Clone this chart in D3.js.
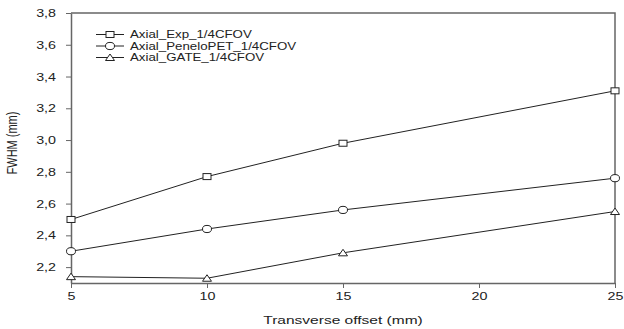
<!DOCTYPE html>
<html><head><meta charset="utf-8">
<script src="https://cdn.jsdelivr.net/npm/d3@7"></script>
<style>
html,body{margin:0;padding:0;background:#fff;}
text{font-family:"Liberation Sans",Arial,sans-serif;fill:#222;}
</style></head>
<body><svg id="c" width="624" height="329"></svg>
<script>
const xValues = [5, 10, 15, 25];
const expValues = [2.50, 2.77, 2.98, 3.31];
const peneloValues = [2.30, 2.44, 2.56, 2.76];
const gateValues = [2.14, 2.13, 2.29, 2.55];
const seriesNames = ["Axial_Exp_1/4CFOV", "Axial_PeneloPET_1/4CFOV", "Axial_GATE_1/4CFOV"];
const seriesShapes = ["square", "circle", "triangle"];
const xTicks = [5, 10, 15, 20, 25];
const yTicks = [2.2, 2.4, 2.6, 2.8, 3.0, 3.2, 3.4, 3.6, 3.8];
const xTitle = "Transverse offset (mm)";
const yTitle = "FWHM (mm)";

const svg = d3.select("#c");
const L = 71, R = 615, T = 13, B = 283;
const SX = 1.3;
const x = d3.scaleLinear().domain([5, 25]).range([L, R]);
const y = d3.scaleLinear().domain([2.1, 3.8]).range([B, T]);
const axisColor = "#666";

// frame top/right
svg.append("path").attr("d", `M${L},${T}H${R}V${B}`).attr("fill", "none")
  .attr("stroke", axisColor).attr("stroke-width", 1.5);

// y axis
const ya = svg.append("g").attr("transform", `translate(${L},0)`)
  .call(d3.axisLeft(y).tickValues(yTicks).tickSize(5).tickSizeOuter(0)
    .tickFormat(d => d3.format(".1f")(d).replace(".", ",")));
ya.select(".domain").attr("stroke", axisColor).attr("stroke-width", 1.5);
ya.selectAll(".tick line").attr("stroke", axisColor);
ya.selectAll(".tick text").attr("x", -15 / SX).attr("transform", `scale(${SX},1)`)
  .attr("font-size", 11).attr("font-family", "Liberation Sans, Arial, sans-serif").attr("fill", "#222");

// x axis
const xa = svg.append("g").attr("transform", `translate(0,${B})`)
  .call(d3.axisBottom(x).tickValues(xTicks).tickSize(5).tickPadding(4).tickSizeOuter(0));
xa.select(".domain").attr("stroke", axisColor).attr("stroke-width", 1.5);
xa.selectAll(".tick line").attr("stroke", axisColor);
xa.selectAll(".tick text").attr("transform", `scale(${SX},1)`)
  .attr("font-size", 11).attr("font-family", "Liberation Sans, Arial, sans-serif").attr("fill", "#222");

// titles
svg.append("g").attr("transform", `translate(${(L + R) / 2},324) scale(1.35,1)`)
  .append("text").attr("text-anchor", "middle").attr("font-size", 11.5).text(xTitle);
svg.append("g").attr("transform", `translate(17,143) scale(${SX},1) rotate(-90)`)
  .append("text").attr("text-anchor", "middle").attr("font-size", 11).text(yTitle);

function marker(g, shape, cx, cy) {
  const st = {fill: "#fff", stroke: "#222", "stroke-width": 1};
  let m;
  if (shape === "square") m = g.append("rect").attr("x", cx - 4).attr("y", cy - 3).attr("width", 8).attr("height", 6);
  else if (shape === "circle") m = g.append("ellipse").attr("cx", cx).attr("cy", cy).attr("rx", 4.5).attr("ry", 3.6);
  else m = g.append("path").attr("d", `M${cx - 4.5},${cy + 3}L${cx + 4.5},${cy + 3}L${cx},${cy - 3.5}Z`);
  for (const k in st) m.attr(k, st[k]);
}

const allSeries = [expValues, peneloValues, gateValues];
const line = d3.line().x((d, i) => x(xValues[i])).y(d => y(d));
allSeries.forEach((vals, si) => {
  const g = svg.append("g");
  g.append("path").attr("d", line(vals)).attr("fill", "none").attr("stroke", "#222").attr("stroke-width", 1);
  vals.forEach((v, i) => marker(g, seriesShapes[si], x(xValues[i]), y(v)));
});

// legend
const legY = [34.5, 46, 57.5];
seriesNames.forEach((name, i) => {
  const g = svg.append("g");
  g.append("line").attr("x1", 96).attr("x2", 124).attr("y1", legY[i]).attr("y2", legY[i])
    .attr("stroke", "#222").attr("stroke-width", 1);
  marker(g, seriesShapes[i], 110, legY[i]);
  g.append("g").attr("transform", `translate(130,${legY[i] + 3.5}) scale(1.33,1)`)
    .append("text").attr("font-size", 10).text(name);
});
</script></body></html>
